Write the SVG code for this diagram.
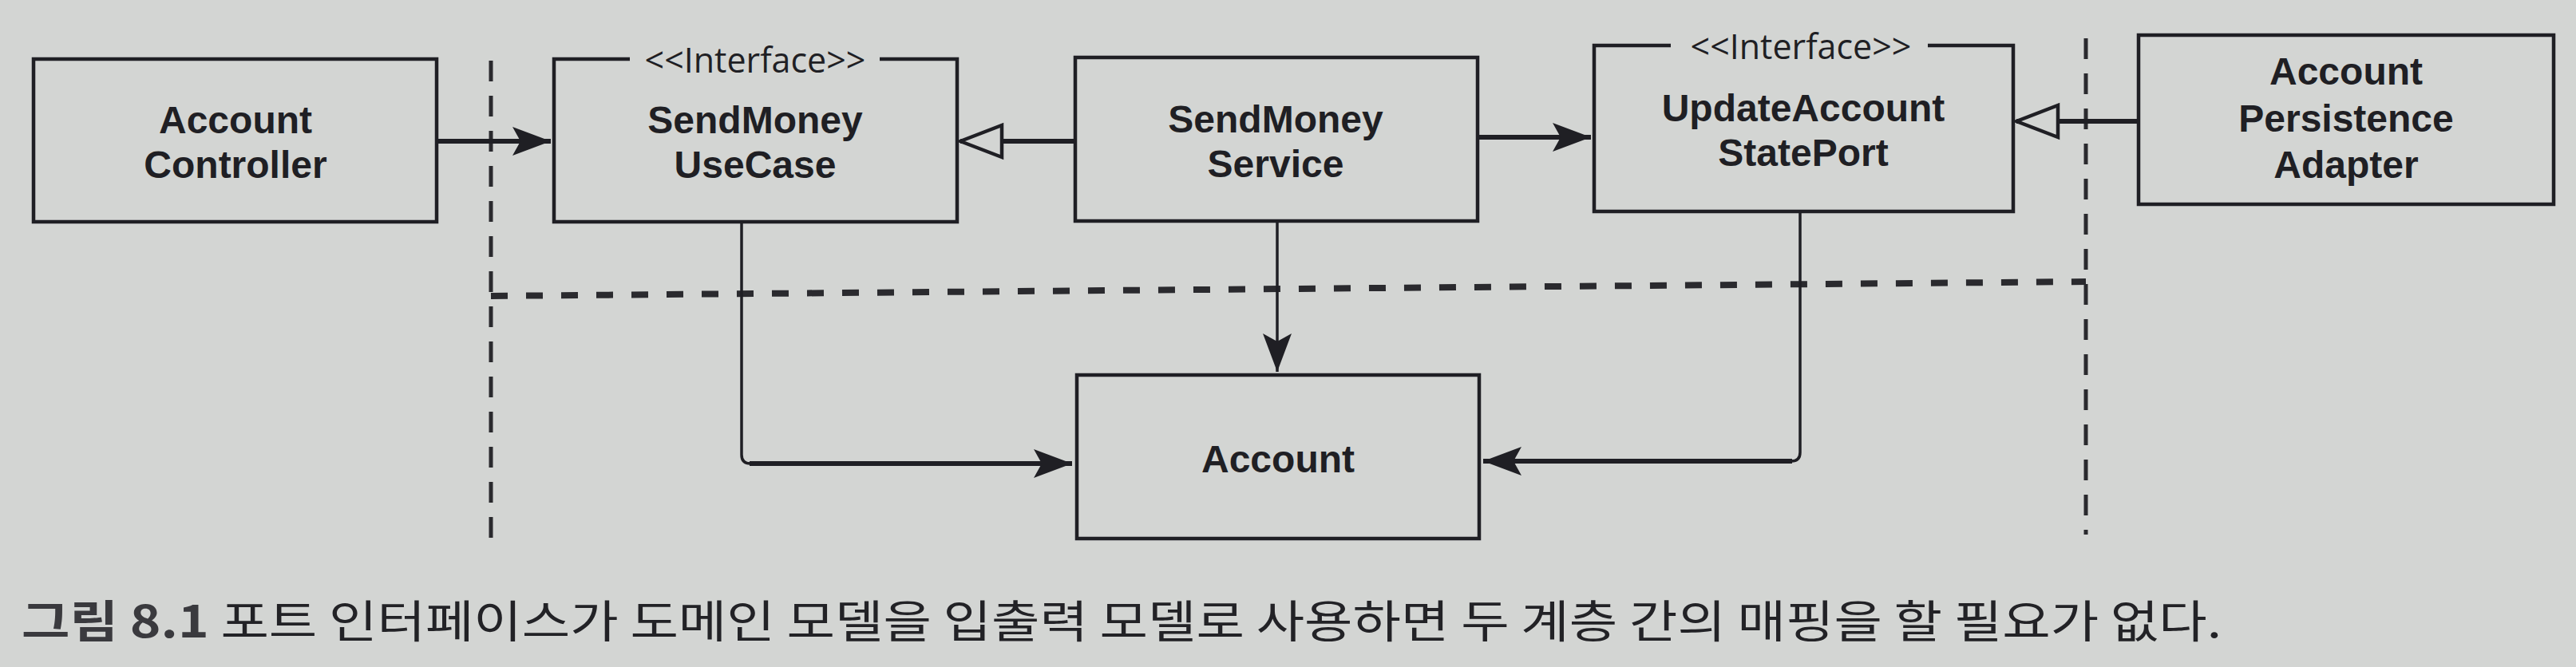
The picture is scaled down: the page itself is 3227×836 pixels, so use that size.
<svg xmlns="http://www.w3.org/2000/svg" width="3227" height="836" viewBox="0 0 3227 836">
<style>
.box{fill:none;stroke:#1f1f24;stroke-width:4.5;stroke-linejoin:miter}
.lbl{font-family:"Liberation Sans","Open Sans",sans-serif;font-weight:700;font-size:48px;fill:#1f1f24;text-anchor:middle}
.st{font-family:"Open Sans","Liberation Sans",sans-serif;font-weight:400;font-size:43px;fill:#1f1f24;text-anchor:middle}
.ah{fill:none;stroke:#1f1f24;stroke-width:6}
.av{fill:none;stroke:#1f1f24;stroke-width:3.5}
.dv{fill:none;stroke:#2a2a2e;stroke-width:5;stroke-dasharray:26 18}
.dh{fill:none;stroke:#2a2a2e;stroke-width:8;stroke-dasharray:21 23}
.cap{font-family:"Noto Sans CJK KR","Noto Sans",sans-serif;font-size:56px;fill:#222226}
</style>
<defs>
<marker id="fa" markerUnits="userSpaceOnUse" markerWidth="52" markerHeight="40" refX="48" refY="20" orient="auto" viewBox="0 0 52 40">
<path d="M0,2 L48,20 L0,38 L10,20 Z" fill="#1f1f24"/>
</marker>
<marker id="ht" markerUnits="userSpaceOnUse" markerWidth="62" markerHeight="50" refX="56" refY="25" orient="auto" viewBox="0 0 62 50">
<path d="M4,5 L56,25 L4,45 Z" fill="#d3d5d3" stroke="#1f1f24" stroke-width="4.5"/>
</marker>
</defs>
<rect x="0" y="0" width="3227" height="836" fill="#d3d5d3"/>

<g id="boundaries">
<path class="dv" d="M615,76 V678"/>
<path class="dv" d="M2613,48 V670"/>
<path class="dh" d="M615,371 L2613,353"/>
</g>

<g id="connectors">
<path class="ah" d="M547,177 H690" marker-end="url(#fa)"/>
<path class="ah" d="M1347,177 H1203" marker-end="url(#ht)"/>
<path class="ah" d="M1851,172 H1993" marker-end="url(#fa)"/>
<path class="ah" d="M2679,152 H2526" marker-end="url(#ht)"/>
<path class="av" d="M929,278 V570 Q929,581 940,581"/>
<path class="ah" d="M939,581 H1343" marker-end="url(#fa)"/>
<path class="av" d="M1600,277 V466" marker-end="url(#fa)"/>
<path class="av" d="M2255,265 V567 Q2255,578 2244,578"/>
<path class="ah" d="M2245,578 H1858" marker-end="url(#fa)"/>
</g>

<g id="account-controller">
<rect class="box" x="42" y="74" width="505" height="204"/>
<text class="lbl" x="295" y="167">Account</text>
<text class="lbl" x="295" y="223">Controller</text>
</g>

<g id="sendmoney-usecase">
<path class="box" d="M789,74 H694 V278 H1199 V74 H1102"/>
<text class="st" x="946" y="91">&lt;&lt;Interface&gt;&gt;</text>
<text class="lbl" x="946" y="167">SendMoney</text>
<text class="lbl" x="946" y="223">UseCase</text>
</g>

<g id="sendmoney-service">
<rect class="box" x="1347" y="72" width="504" height="205"/>
<text class="lbl" x="1598" y="166">SendMoney</text>
<text class="lbl" x="1598" y="222">Service</text>
</g>

<g id="update-account-state-port">
<path class="box" d="M2093,57 H1997 V265 H2522 V57 H2415"/>
<text class="st" x="2256" y="74">&lt;&lt;Interface&gt;&gt;</text>
<text class="lbl" x="2259" y="152">UpdateAccount</text>
<text class="lbl" x="2259" y="208">StatePort</text>
</g>

<g id="account-persistence-adapter">
<rect class="box" x="2679" y="44" width="520" height="212"/>
<text class="lbl" x="2939" y="106">Account</text>
<text class="lbl" x="2939" y="165">Persistence</text>
<text class="lbl" x="2939" y="223">Adapter</text>
</g>

<g id="account">
<rect class="box" x="1349" y="470" width="504" height="205"/>
<text class="lbl" x="1601" y="592">Account</text>
</g>

<text class="cap" x="27" y="799" textLength="2756" lengthAdjust="spacingAndGlyphs"><tspan font-weight="700" fill="#3a3a3e">그림 8.1</tspan> 포트 인터페이스가 도메인 모델을 입출력 모델로 사용하면 두 계층 간의 매핑을 할 필요가 없다.</text>
</svg>
